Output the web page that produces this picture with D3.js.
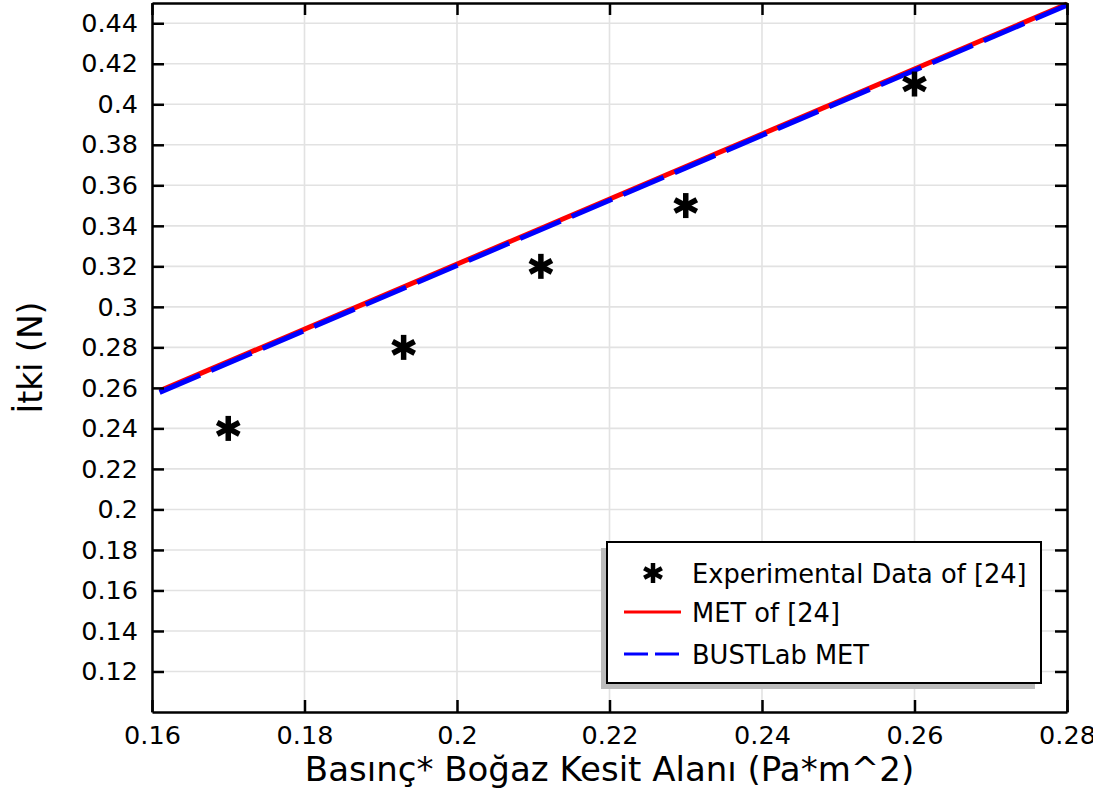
<!DOCTYPE html>
<html lang="tr">
  <head>
    <meta charset="utf-8" />
    <title>İtki</title>
    <script src="https://cdnjs.cloudflare.com/ajax/libs/d3/7.8.5/d3.min.js"></script>
    <style>
      body {
        margin: 0;
        background: #ffffff;
        font-family: "DejaVu Sans", sans-serif;
      }
      svg {
        display: block;
        overflow: hidden;
      }
      .grid line {
        stroke: #e2e2e2;
        stroke-width: 1.6px;
      }
      .axis-title {
        fill: #000;
      }
      .legend text {
        font-size: 25.7px;
        fill: #000;
      }
    </style>
  </head>
  <body>
    <div id="chart"></div>
    <script>
      // values
      const expX = [0.17, 0.193, 0.211, 0.23, 0.26];
      const expY = [0.24, 0.28, 0.32, 0.35, 0.41];
      const metX = [0.161, 0.28];
      const metY = [0.2585, 0.4495];
      const bustX = [0.161, 0.28];
      const bustY = [0.2578, 0.4489];
      const xTicks = [0.16, 0.18, 0.2, 0.22, 0.24, 0.26, 0.28];
      const yTicks = [0.12, 0.14, 0.16, 0.18, 0.2, 0.22, 0.24, 0.26, 0.28, 0.3,
        0.32, 0.34, 0.36, 0.38, 0.4, 0.42, 0.44];
      const legendLabels = ["Experimental Data of [24]", "MET of [24]", "BUSTLab MET"];

      const width = 1093;
      const height = 793;
      const margin = { left: 152, right: 26, top: 3, bottom: 81 };
      const plotW = width - margin.left - margin.right;
      const plotH = height - margin.top - margin.bottom;

      const x = d3.scaleLinear().domain([0.16, 0.28]).range([0, plotW]);
      const y = d3.scaleLinear().domain([0.1, 0.45]).range([plotH, 0]);
      const fmt = (d) => String(+d.toFixed(2));

      const svg = d3
        .select("#chart")
        .append("svg")
        .attr("width", width)
        .attr("height", height);

      const g = svg
        .append("g")
        .attr("transform", `translate(${margin.left},${margin.top})`);

      // grid
      const grid = g.append("g").attr("class", "grid");
      grid
        .selectAll(".gx")
        .data(xTicks)
        .join("line")
        .attr("x1", (d) => x(d))
        .attr("x2", (d) => x(d))
        .attr("y1", 0)
        .attr("y2", plotH);
      grid
        .selectAll(".gy")
        .data(yTicks)
        .join("line")
        .attr("class", "gy")
        .attr("x1", 0)
        .attr("x2", plotW)
        .attr("y1", (d) => y(d))
        .attr("y2", (d) => y(d));

      // lines
      const line = d3
        .line()
        .x((d) => x(d[0]))
        .y((d) => y(d[1]));

      g.append("path")
        .datum(d3.zip(metX, metY))
        .attr("d", line)
        .attr("fill", "none")
        .attr("stroke", "#ff0000")
        .attr("stroke-width", 5);

      g.append("path")
        .datum(d3.zip(bustX, bustY))
        .attr("d", line)
        .attr("fill", "none")
        .attr("stroke", "#0000ff")
        .attr("stroke-width", 5)
        .attr("stroke-dasharray", "44,12");

      // asterisk marker
      function star(sel, r, sw) {
        [90, 28, 152].forEach((a) => {
          const rad = (a * Math.PI) / 180;
          sel
            .append("line")
            .attr("x1", -r * Math.cos(rad))
            .attr("y1", -r * Math.sin(rad))
            .attr("x2", r * Math.cos(rad))
            .attr("y2", r * Math.sin(rad))
            .attr("stroke", "#000")
            .attr("stroke-width", sw);
        });
      }

      g.selectAll(".pt")
        .data(d3.zip(expX, expY))
        .join("g")
        .attr("class", "pt")
        .attr("transform", (d) => `translate(${x(d[0])},${y(d[1])})`)
        .each(function () {
          star(d3.select(this), 12.5, 5.5);
        });

      // axes (ticks inward on all four sides)
      const axes = [
        { ax: d3.axisBottom(x), t: `translate(0,${plotH})`, labels: true },
        { ax: d3.axisTop(x), t: "translate(0,0)", labels: false },
        { ax: d3.axisLeft(y), t: "translate(0,0)", labels: true },
        { ax: d3.axisRight(y), t: `translate(${plotW},0)`, labels: false },
      ];
      axes.forEach((a, i) => {
        const vals = i < 2 ? xTicks : yTicks;
        const ag = g
          .append("g")
          .attr("transform", a.t)
          .call(
            a.ax
              .tickValues(vals)
              .tickSizeInner(-12)
              .tickSizeOuter(0)
              .tickPadding(14)
              .tickFormat(a.labels ? fmt : "")
          )
          .attr("font-family", "DejaVu Sans")
          .attr("font-size", 25.5);
        ag.select(".domain").attr("stroke", "#000").attr("stroke-width", 2.5);
        ag.selectAll(".tick line").attr("stroke", "#000").attr("stroke-width", 2.5);
        ag.selectAll(".tick text").attr("fill", "#000");
      });

      // axis titles
      g.append("text")
        .attr("class", "axis-title")
        .attr("x", plotW / 2)
        .attr("y", plotH + 69)
        .attr("text-anchor", "middle")
        .style("font-size", "34px")
        .text("Basınç* Boğaz Kesit Alanı (Pa*m^2)");

      g.append("text")
        .attr("class", "axis-title")
        .attr("transform", `translate(${42 - margin.left},${plotH / 2}) rotate(-90)`)
        .attr("text-anchor", "middle")
        .style("font-size", "33px")
        .text("İtki (N)");

      // legend
      const lg = svg.append("g").attr("class", "legend").attr("transform", "translate(607,542)");
      lg.append("rect")
        .attr("x", -6)
        .attr("y", 6)
        .attr("width", 434)
        .attr("height", 141)
        .attr("fill", "#bcbcbc");
      lg.append("rect")
        .attr("width", 434)
        .attr("height", 141)
        .attr("fill", "#fff")
        .attr("stroke", "#000")
        .attr("stroke-width", 2);

      const rowY = [31, 70, 112];
      legendLabels.forEach((lab, i) => {
        const row = lg.append("g").attr("transform", `translate(0,${rowY[i]})`);
        if (i === 0) {
          star(row.append("g").attr("transform", "translate(46,0)"), 10, 4.5);
        } else {
          row.append("line")
            .attr("x1", 17)
            .attr("x2", 74)
            .attr("stroke", i === 1 ? "#ff0000" : "#0000ff")
            .attr("stroke-width", 3)
            .attr("stroke-dasharray", i === 2 ? "24,7" : null);
        }
        row.append("text").attr("x", 85).attr("y", 10).text(lab);
      });
    </script>
  </body>
</html>
